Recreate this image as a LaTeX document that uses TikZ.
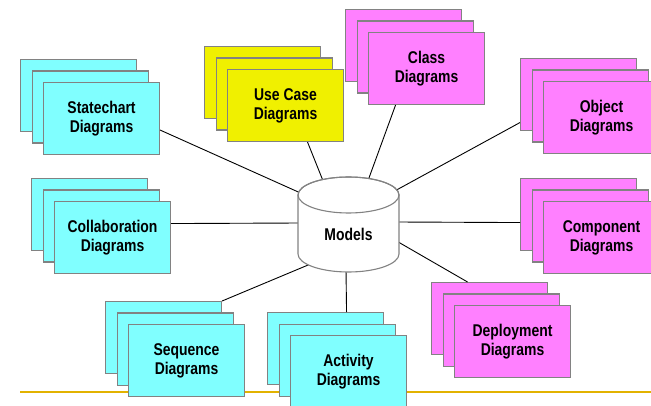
\documentclass[tikz,border=0pt]{standalone}
\usepackage{fontspec}
\setmainfont{Liberation Sans}[FakeStretch=0.82]
\usetikzlibrary{calc}
\definecolor{cyanfill}{RGB}{128,255,255}
\definecolor{yellowfill}{RGB}{240,240,0}
\definecolor{magentafill}{RGB}{255,128,255}
\definecolor{boxborder}{RGB}{130,130,130}
\definecolor{goldline}{RGB}{226,178,0}
\tikzset{
  diabox/.style={draw=boxborder, line width=1.1pt, anchor=north west,
    minimum width=116pt, minimum height=72pt, inner sep=0pt, align=center,
    font=\fontsize{17}{18.7}\selectfont\bfseries},
  conn/.style={draw=black, line width=0.9pt},
}
\newcommand\umlstack[5]{%
  \node[diabox, fill=#4] (#1-b) at (#2,#3) {};
  \node[diabox, fill=#4] (#1-m) at ($(#2,#3)+(11.5,11.5)$) {};
  \node[diabox, fill=#4] (#1) at ($(#2,#3)+(23,23)$) {#5};
}
\begin{document}
\begin{tikzpicture}[x=1pt, y=-1pt]
\useasboundingbox (0,0) rectangle (651,406);
% rule
\draw[goldline, line width=1.5pt] (20,392) -- (651,392);
% central node area
\node[minimum width=101pt, minimum height=78pt, inner sep=0pt] (models) at (348.5,234) {};
% stacks
\umlstack{sc}{20}{59}{cyanfill}{Statechart\\Diagrams}
\umlstack{uc}{204}{46}{yellowfill}{Use Case\\Diagrams}
\umlstack{cl}{345}{9}{magentafill}{Class\\Diagrams}
\umlstack{ob}{520}{58}{magentafill}{Object\\Diagrams}
\umlstack{cp}{520}{178}{magentafill}{Component\\Diagrams}
\umlstack{cb}{31}{178}{cyanfill}{Collaboration\\Diagrams}
\umlstack{sq}{105}{301}{cyanfill}{Sequence\\Diagrams}
\umlstack{ac}{267}{312}{cyanfill}{Activity\\Diagrams}
\umlstack{de}{431}{282}{magentafill}{Deployment\\Diagrams}
% connectors
\draw[conn] ($(sc.east)+(0,11.5)$) -- ($(models)+(-48,-41)$);
\draw[conn] ($(uc.south)+(22,0)$) -- ($(models)+(-25,-52)$);
\draw[conn] ($(cl.south)+(-31,0)$) -- ($(models)+(19,-52)$);
\draw[conn] ($(ob-b.west)+(0,28)$) -- ($(models)+(48,-44)$);
\draw[conn] ($(cp-b.west)+(0,8)$) -- ($(models)+(48,-12)$);
\draw[conn] ($(cb.east)+(0,-14)$) -- ($(models)+(-48,-11)$);
\draw[conn] (sq-b.north east) -- ($(models)+(-38,30)$);
\draw[conn] ($(ac-b.north)+(21,0)$) -- ($(models)+(-2.5,35)$);
\draw[conn] ($(de-b.north)+(-22,0)$) -- ($(models)+(48,7)$);
% cylinder
\filldraw[fill=white, draw=boxborder, line width=1.1pt]
  (298,195) -- (298,254)
  arc[start angle=180, end angle=360, x radius=50.5pt, y radius=18pt]
  -- (399,195)
  arc[start angle=0, end angle=180, x radius=50.5pt, y radius=18pt] -- cycle;
\draw[draw=boxborder, line width=1.1pt] (348.5,195) ellipse [x radius=50.5pt, y radius=18pt];
\node[font=\fontsize{17}{18.7}\selectfont\bfseries, inner sep=0pt] at (models) {Models};
\end{tikzpicture}
\end{document}
